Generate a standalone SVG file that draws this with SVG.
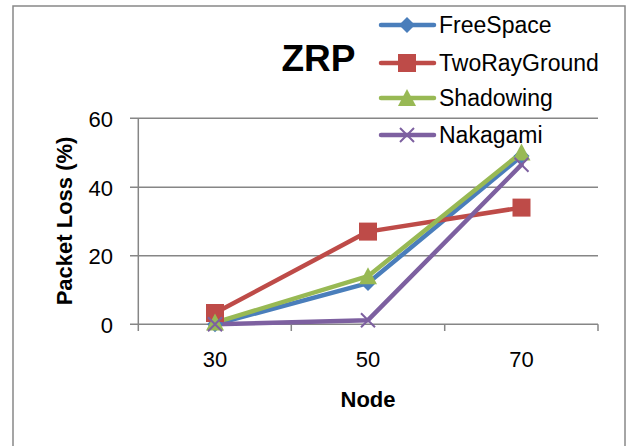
<svg xmlns="http://www.w3.org/2000/svg" width="628" height="446" viewBox="0 0 628 446">
<style>
.grid{stroke:#868686;stroke-width:1.5;fill:none}
.lbl{font-family:"Liberation Sans",Arial,sans-serif;font-size:22px;fill:#000}
.leg{font-size:23px}
.b{font-weight:bold}
.s{fill:none;stroke-width:4.5;stroke-linejoin:round;stroke-linecap:round}
</style>
<defs>
<path id="dia" d="M0,-8 L8,0 L0,8 L-8,0 Z" fill="#4a7ebb"/>
<rect id="sq" x="-9" y="-9" width="18" height="18" fill="#be4b48"/>
<path id="tri" d="M0,-9 L9,8 L-9,8 Z" fill="#98b954"/>
<path id="xm" d="M-7,-7 L7,7 M-7,7 L7,-7" stroke="#7d60a0" stroke-width="2" fill="none"/>
</defs>
<rect x="0" y="0" width="628" height="446" fill="#fff"/>
<rect x="13" y="6" width="612" height="450" fill="none" stroke="#888" stroke-width="1.5"/>
<g id="axes">
<path class="grid" d="M130,118.3H598M130,187.3H598M130,255.8H598M130,324.3H598"/>
<path class="grid" d="M138.3,118.3V331M291.3,324.3V331M444.7,324.3V331M598,324.3V331"/>
<g class="lbl" text-anchor="end">
<text x="113" y="126.5">60</text>
<text x="113" y="195.5">40</text>
<text x="113" y="264">20</text>
<text x="113" y="332.5">0</text>
</g>
<g class="lbl" text-anchor="middle">
<text x="215" y="367">30</text>
<text x="368" y="367">50</text>
<text x="521.5" y="367">70</text>
</g>
<text class="lbl b" x="368" y="407" text-anchor="middle">Node</text>
<text class="lbl b" transform="translate(72,221) rotate(-90)" text-anchor="middle">Packet Loss (%)</text>
<text class="lbl b" x="318.5" y="71" text-anchor="middle" style="font-size:37px">ZRP</text>
</g>
<g id="connectors">
<polyline class="s" stroke="#4a7ebb" points="215,324.3 368,283.1 521.5,156.1"/>
<polyline class="s" stroke="#be4b48" points="215,313 368,231.6 521.5,207.6"/>
<polyline class="s" stroke="#98b954" points="215,322.6 368,276.2 521.5,152.6"/>
<polyline class="s" stroke="#7d60a0" points="215,324.3 368,320.2 521.5,164.7"/>
</g>
<g id="FreeSpace">
<use href="#dia" x="215" y="324.3"/><use href="#dia" x="368" y="283.1"/><use href="#dia" x="521.5" y="156.1"/>
</g>
<g id="TwoRayGround">
<use href="#sq" x="215" y="313"/><use href="#sq" x="368" y="231.6"/><use href="#sq" x="521.5" y="207.6"/>
</g>
<g id="Shadowing">
<use href="#tri" x="215" y="322.6"/><use href="#tri" x="368" y="276.2"/><use href="#tri" x="521.5" y="152.6"/>
</g>
<g id="Nakagami">
<use href="#xm" x="215" y="324.3"/><use href="#xm" x="368" y="320.2"/><use href="#xm" x="521.5" y="164.7"/>
</g>
<g id="legend">
<line class="s" x1="381" y1="25" x2="434" y2="25" stroke="#4a7ebb"/><use href="#dia" x="407" y="25"/>
<text class="lbl leg" x="439" y="33">FreeSpace</text>
<line class="s" x1="381" y1="63" x2="434" y2="63" stroke="#be4b48"/><use href="#sq" x="407" y="63"/>
<text class="lbl leg" x="439" y="71">TwoRayGround</text>
<line class="s" x1="381" y1="98" x2="434" y2="98" stroke="#98b954"/><use href="#tri" x="407" y="98"/>
<text class="lbl leg" x="439" y="106">Shadowing</text>
<line class="s" x1="381" y1="135" x2="434" y2="135" stroke="#7d60a0"/><use href="#xm" x="407" y="135"/>
<text class="lbl leg" x="439" y="143">Nakagami</text>
</g>
</svg>
